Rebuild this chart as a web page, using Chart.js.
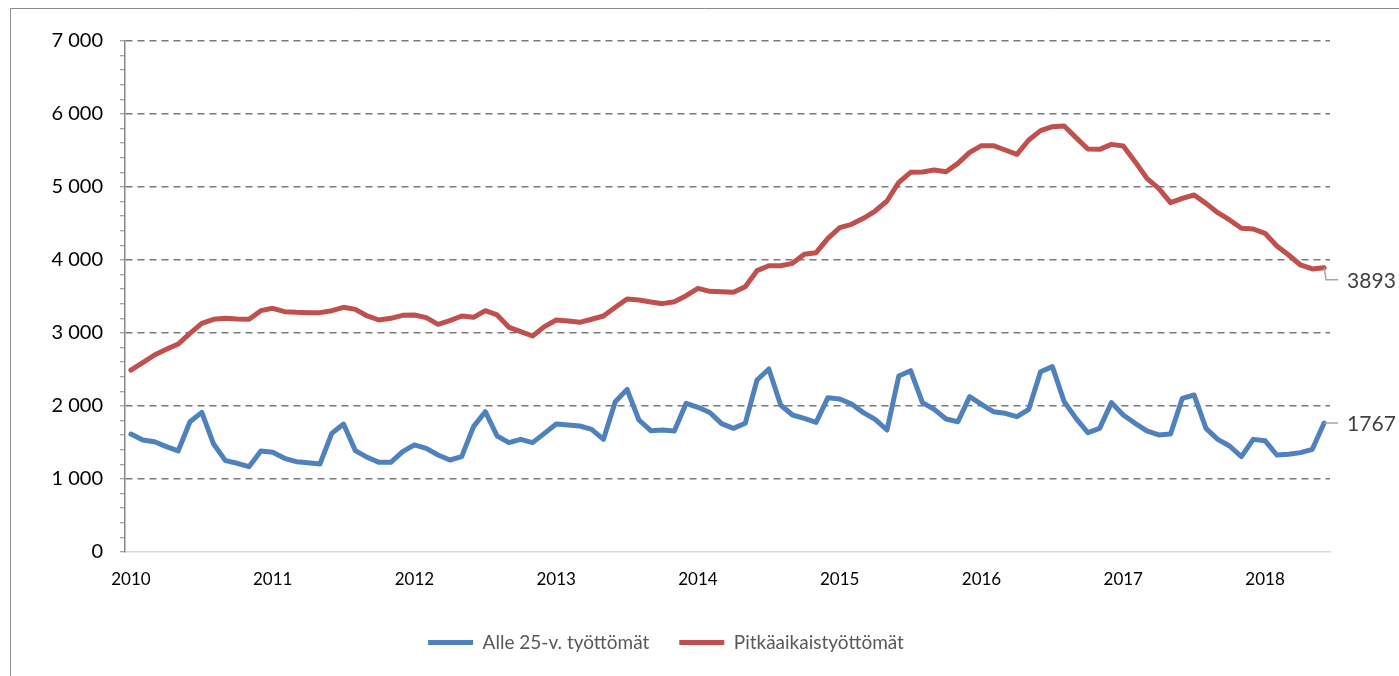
<!DOCTYPE html>
<html lang="fi">
<head>
<meta charset="utf-8">
<title>Alle 25-v. työttömät ja pitkäaikaistyöttömät</title>
<script src="https://cdn.jsdelivr.net/npm/chart.js@4.4.1/dist/chart.umd.min.js"></script>
<style>
  html, body { margin: 0; padding: 0; background: #fff; }
  #wrap { width: 1399px; height: 676px; }
</style>
</head>
<body>
<div id="wrap"><canvas id="tyottomatChart" width="1399" height="676"></canvas></div>
<script>
// Kuukausittaiset luvut 1/2010 - 6/2018
const startYear = 2010;
const yearTicks = [2010, 2011, 2012, 2013, 2014, 2015, 2016, 2017, 2018];

const alle25 = [
    1616, 1534, 1511, 1443, 1384, 1785, 1913, 1479, 1251, 1215, 1169, 1384,
    1365, 1283, 1237, 1224, 1205, 1625, 1753, 1388, 1297, 1228, 1228, 1374,
    1468, 1420, 1329, 1260, 1306, 1717, 1922, 1589, 1498, 1543, 1498, 1625,
    1753, 1740, 1726, 1680, 1543, 2059, 2228, 1808, 1662, 1671, 1658, 2037,
    1982, 1911, 1758, 1694, 1763, 2356, 2507, 2014, 1877, 1831, 1776, 2114,
    2096, 2027, 1909, 1817, 1671, 2411, 2484, 2046, 1954, 1822, 1785, 2128,
    2023, 1922, 1900, 1854, 1954, 2470, 2539, 2059, 1831, 1635, 1694, 2046,
    1877, 1763, 1658, 1603, 1616, 2105, 2151, 1694, 1543, 1452, 1306, 1543,
    1525, 1329, 1338, 1361, 1407, 1767
];

const pitkaaikaiset = [
    2490, 2593, 2699, 2776, 2849, 2995, 3133, 3188, 3201, 3192, 3188, 3306,
    3338, 3292, 3283, 3279, 3279, 3306, 3352, 3324, 3233, 3178, 3201, 3242,
    3247, 3210, 3119, 3169, 3233, 3215, 3306, 3247, 3078, 3018, 2959, 3087,
    3178, 3164, 3146, 3188, 3233, 3352, 3466, 3452, 3425, 3402, 3429, 3511,
    3612, 3571, 3566, 3557, 3635, 3854, 3922, 3922, 3954, 4078, 4100, 4297,
    4443, 4489, 4571, 4671, 4808, 5064, 5201, 5205, 5233, 5210, 5324, 5475,
    5566, 5566, 5507, 5448, 5644, 5772, 5826, 5836, 5676, 5521, 5516, 5584,
    5562, 5347, 5119, 4982, 4785, 4845, 4890, 4776, 4648, 4548, 4434, 4425,
    4366, 4192, 4068, 3932, 3877, 3893
];

// Kategoriat: vuosi-kuukausi
const labels = [];
yearTicks.forEach(function(y) {
    for (let m = 1; m <= 12; m++) {
        if (labels.length < alle25.length) {
            labels.push(y + '-' + (m < 10 ? '0' + m : m));
        }
    }
});

const FONT = "Lato, 'Liberation Sans', Arial, sans-serif";

function formatThousands(v) {
    return String(v).replace(/\B(?=(\d{3})+(?!\d))/g, ' ');
}

// Kehys vasemmalle ja ylös
const framePlugin = {
    id: 'frame',
    beforeDraw(chart) {
        const ctx = chart.ctx;
        ctx.save();
        ctx.strokeStyle = '#8c8c8c';
        ctx.lineWidth = 1;
        ctx.beginPath();
        ctx.moveTo(10.5, chart.height);
        ctx.lineTo(10.5, 8.5);
        ctx.lineTo(chart.width, 8.5);
        ctx.stroke();
        ctx.restore();
    }
};

// Viimeisen arvon tunnisteet
const endLabelPlugin = {
    id: 'endLabels',
    afterDatasetsDraw(chart) {
        const ctx = chart.ctx;
        ctx.save();
        chart.data.datasets.forEach(function(ds, i) {
            const meta = chart.getDatasetMeta(i);
            const pt = meta.data[meta.data.length - 1];
            const value = ds.data[ds.data.length - 1];
            const dy = ds.labelShift || 0;
            ctx.strokeStyle = '#a6a6a6';
            ctx.lineWidth = 1.5;
            ctx.beginPath();
            ctx.moveTo(pt.x, pt.y);
            ctx.lineTo(pt.x + 2, pt.y + dy);
            ctx.lineTo(pt.x + 14, pt.y + dy);
            ctx.stroke();
            ctx.fillStyle = '#404040';
            ctx.font = '21px ' + FONT;
            ctx.textAlign = 'left';
            ctx.textBaseline = 'middle';
            ctx.fillText(String(value), pt.x + 23, pt.y + dy + 1);
        });
        ctx.restore();
    }
};

new Chart(document.getElementById('tyottomatChart').getContext('2d'), {
    type: 'line',
    data: {
        labels: labels,
        datasets: [{
            label: 'Alle 25-v. työttömät',
            data: alle25,
            borderColor: '#4f81bd',
            backgroundColor: '#4f81bd',
            borderWidth: 5,
            borderJoinStyle: 'round',
            borderCapStyle: 'round',
            pointRadius: 0,
            tension: 0,
            fill: false,
            labelShift: 0
        }, {
            label: 'Pitkäaikaistyöttömät',
            data: pitkaaikaiset,
            borderColor: '#c0504d',
            backgroundColor: '#c0504d',
            borderWidth: 5,
            borderJoinStyle: 'round',
            borderCapStyle: 'round',
            pointRadius: 0,
            tension: 0,
            fill: false,
            labelShift: 12
        }]
    },
    options: {
        responsive: false,
        animation: false,
        layout: {
            padding: { left: 2, right: 69, top: 41, bottom: 14 }
        },
        plugins: {
            title: { display: false },
            tooltip: { enabled: false },
            legend: {
                display: true,
                position: 'bottom',
                maxHeight: 73,
                labels: {
                    usePointStyle: true,
                    pointStyle: 'line',
                    pointStyleWidth: 45,
                    padding: 30,
                    color: '#595959',
                    font: { family: FONT, size: 19 }
                }
            }
        },
        scales: {
            x: {
                type: 'category',
                offset: true,
                grid: { display: false },
                border: { display: true, color: '#d9d9d9', width: 1.5 },
                ticks: {
                    autoSkip: false,
                    maxRotation: 0,
                    padding: 9,
                    color: '#000',
                    font: { family: FONT, size: 17 },
                    callback: function(value, index) {
                        return index % 12 === 0 ? String(startYear + index / 12) : '';
                    }
                },
                afterFit: function(scale) {
                    scale.height = 51;
                }
            },
            y: {
                min: 0,
                max: 7000,
                grid: {
                    color: function(c) {
                        return c.tick && c.tick.value % 1000 === 0 && c.tick.value !== 0 ? '#7a7a7a' : 'rgba(0,0,0,0)';
                    },
                    lineWidth: 1.5,
                    drawTicks: true,
                    tickLength: 5,
                    tickColor: '#868686',
                    tickWidth: 1
                },
                border: { display: true, color: '#868686', width: 1.5, dash: [7, 5] },
                ticks: {
                    stepSize: 200,
                    autoSkip: false,
                    padding: 17,
                    color: '#000',
                    font: { family: FONT, size: 20 },
                    callback: function(value) {
                        return value % 1000 === 0 ? formatThousands(value) : '';
                    }
                },
                afterFit: function(scale) {
                    scale.width = 123;
                }
            }
        }
    },
    plugins: [framePlugin, endLabelPlugin]
});
</script>
</body>
</html>
